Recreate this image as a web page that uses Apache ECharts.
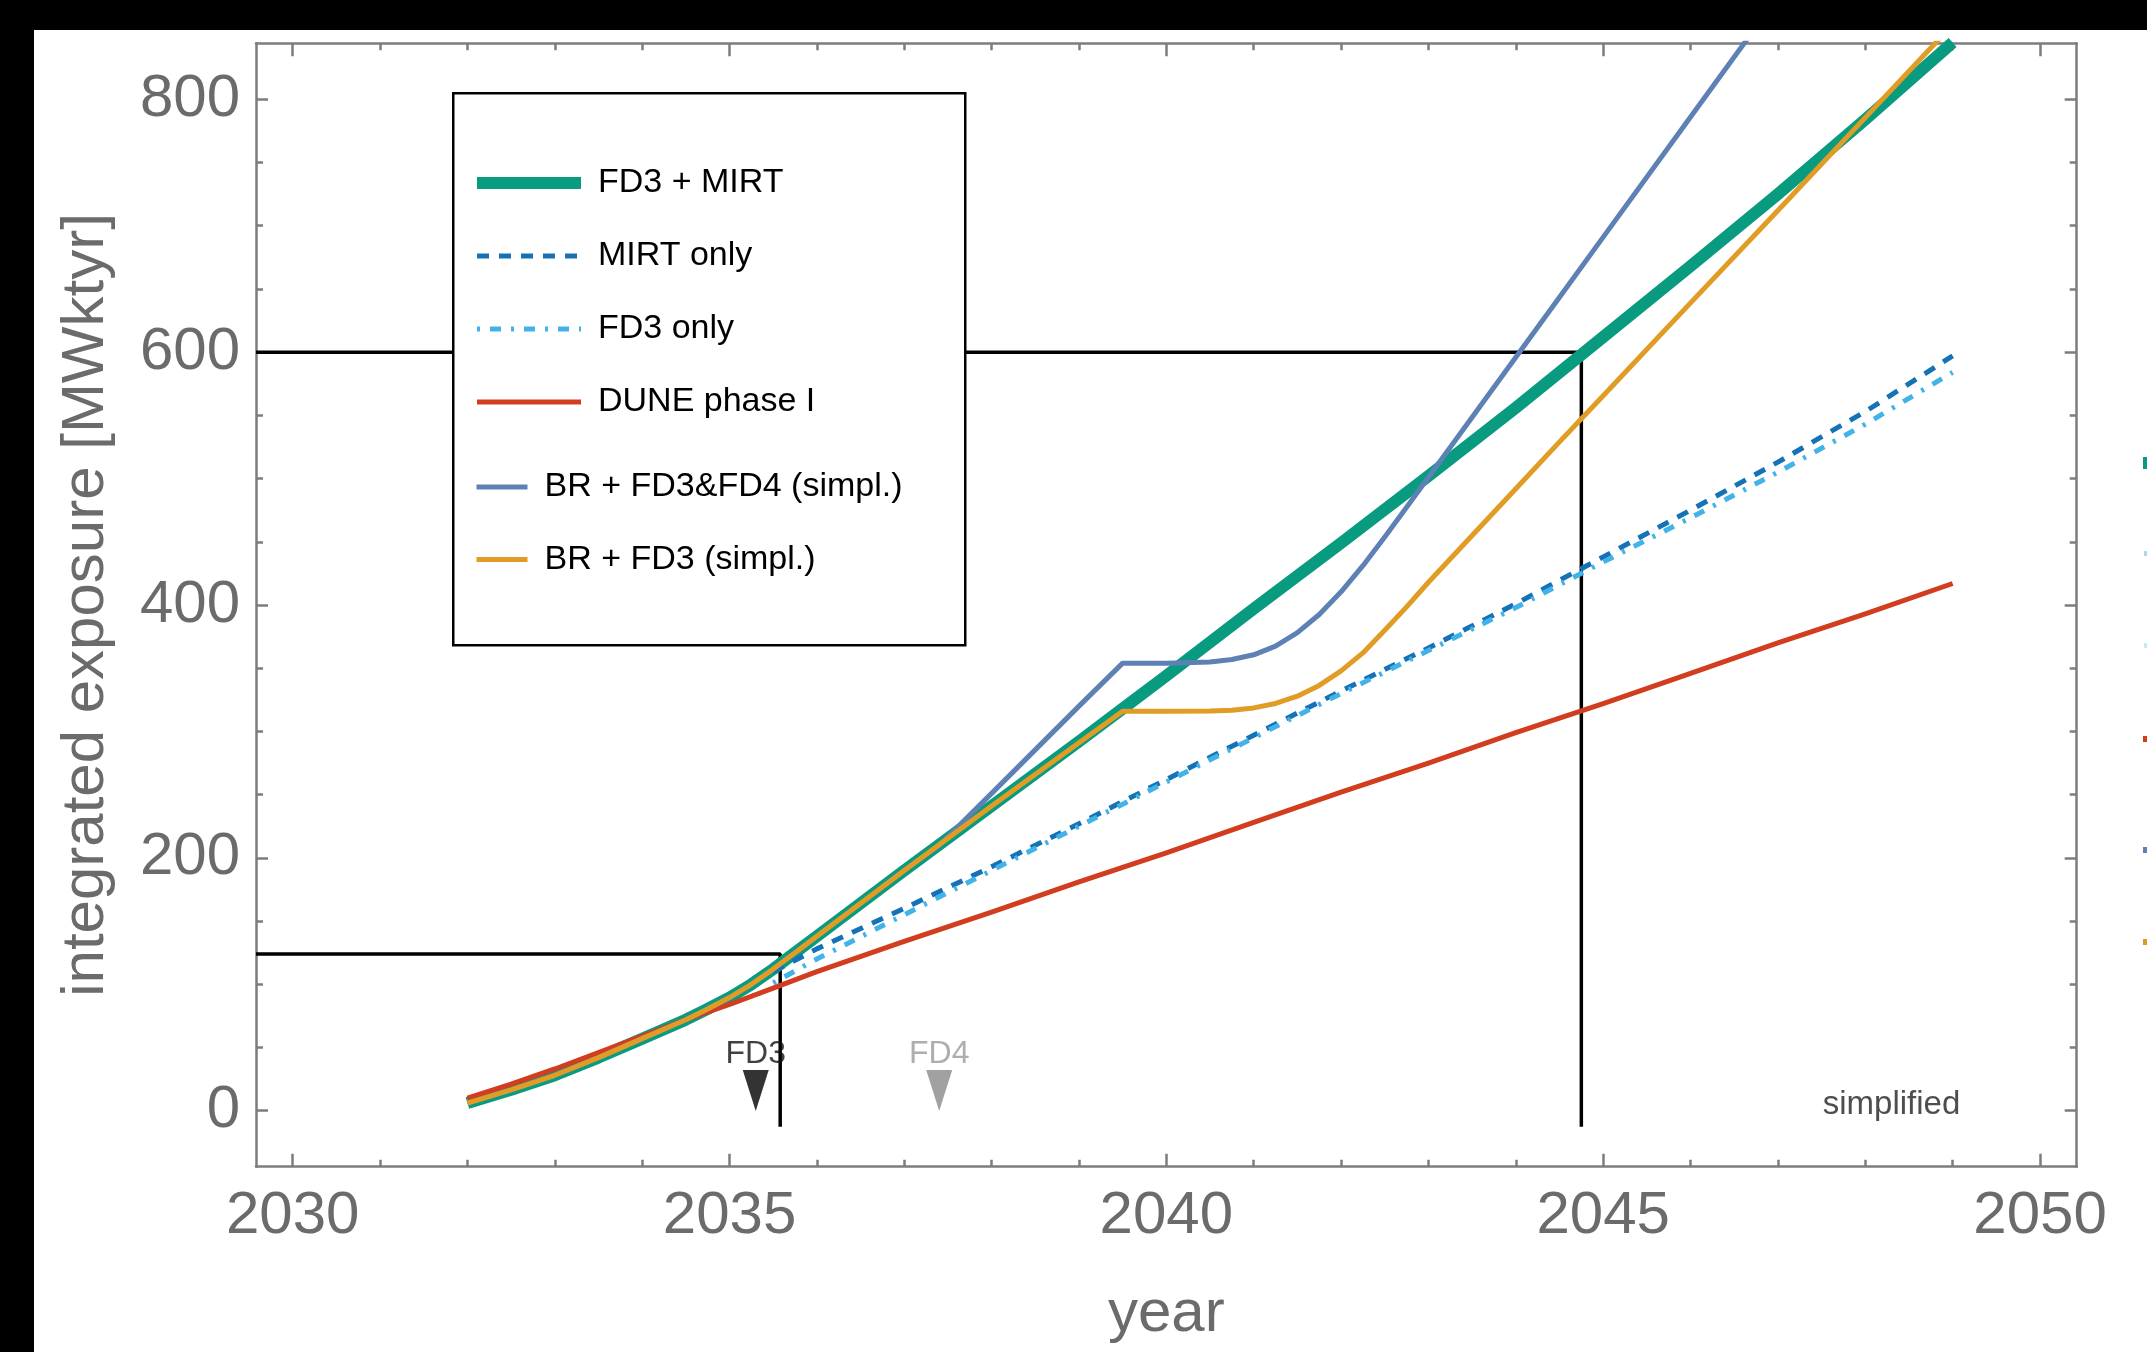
<!DOCTYPE html>
<html>
<head>
<meta charset="utf-8">
<script src="https://cdn.jsdelivr.net/npm/echarts@6/dist/echarts.min.js"></script>
<style>
html, body { margin: 0; padding: 0; background: #fff; }
#chart { width: 2147px; height: 1352px; }
</style>
</head>
<body>
<div id="chart"></div>
<script>
// ---- exposure curves: year -> integrated exposure [MW kt yr] ----
const fd3MirtYears = [2032, 2032.5, 2033, 2033.5, 2034, 2034.5, 2034.75, 2035, 2035.25, 2035.5, 2035.75, 2036, 2037, 2038, 2039, 2039.5, 2040, 2041, 2042, 2043, 2044, 2045, 2046, 2047, 2048, 2049];
const fd3MirtValues = [6, 16.5, 28, 42, 57, 72, 80.5, 89.5, 100, 112, 125, 138, 190, 241, 292, 318, 344, 397, 449, 502, 556, 612, 668, 725, 784, 845];

const mirtOnlyYears = [2035.5, 2036, 2037, 2038, 2039, 2040, 2041, 2042, 2043, 2044, 2045, 2046, 2047, 2048, 2049];
const mirtOnlyValues = [110, 128, 160, 193, 227, 262, 297, 332, 366, 401, 438, 475, 513, 553, 597];

const fd3OnlyYears = [2035.5, 2036, 2037, 2038, 2039, 2040, 2041, 2042, 2043, 2044, 2045, 2046, 2047, 2048, 2049];
const fd3OnlyValues = [101, 120, 155, 190, 225, 260, 295, 330, 364, 398, 434, 469, 505, 543, 584];

const phaseOneYears = [2032, 2032.5, 2033, 2033.5, 2034, 2034.5, 2035, 2035.5, 2036, 2037, 2038, 2039, 2040, 2041, 2042, 2043, 2044, 2045, 2046, 2047, 2048, 2049];
const phaseOneValues = [10, 21, 33, 46, 59, 72, 84, 97, 110, 134, 157, 181, 204, 228, 252, 275, 299, 322, 346, 370, 393, 417];

const brFd3Fd4Years = [2032, 2032.5, 2033, 2033.5, 2034, 2034.5, 2034.75, 2035, 2035.25, 2035.5, 2035.75, 2036, 2037, 2037.4, 2038, 2039, 2039.5, 2040, 2040.5, 2040.75, 2041, 2041.25, 2041.5, 2041.75, 2042, 2042.25, 2042.5, 2042.75, 2043, 2043.5, 2044, 2044.5, 2045, 2046, 2047, 2048, 2049];
const brFd3Fd4Values = [6, 16.5, 28, 42, 57, 72, 80.5, 89.5, 100, 112, 125, 138, 190, 210, 251, 320, 354, 354, 355, 356.9, 360.6, 367.5, 378.1, 392.5, 410.4, 431.1, 453.8, 477.3, 501, 548.5, 596, 643.5, 691, 786, 881, 976, 1071];

const brFd3Years = [2032, 2032.5, 2033, 2033.5, 2034, 2034.5, 2034.75, 2035, 2035.25, 2035.5, 2035.75, 2036, 2037, 2038, 2039, 2039.5, 2040, 2040.5, 2040.75, 2041, 2041.25, 2041.5, 2041.75, 2042, 2042.25, 2042.5, 2042.75, 2043, 2043.5, 2044, 2044.5, 2045, 2046, 2047, 2048, 2049];
const brFd3Values = [6, 16.5, 28, 42, 57, 72, 80.5, 89.5, 100, 112, 125, 138, 190, 241, 291, 316, 316, 316.2, 316.8, 318.6, 322.1, 327.9, 336.4, 347.9, 362.1, 380, 398.5, 418, 455, 492, 529, 565.5, 639, 712, 785.5, 859];

// ---- guide lines: exposure reached when FD3 arrives, and the 600 MW kt yr milestone ----
const fd3GuideYears = [2029.58, 2035.58, 2035.58];
const fd3GuideValues = [124, 124, -12.7];
const milestoneYears = [2029.58, 2044.75, 2044.75];
const milestoneValues = [600, 600, -12.7];

// ---- far-detector arrival markers ----
const detectorNames = ['FD3', 'FD4'];
const detectorYears = [2035.3, 2037.4];
const detectorMarkValue = 16;

// ---- axes ----
const yearRange = [2029.58, 2050.42];
const exposureRange = [-44.3, 844.3];
const yearLabels = [2030, 2035, 2040, 2045, 2050];
const yearMinorTicks = [2031, 2032, 2033, 2034, 2036, 2037, 2038, 2039, 2041, 2042, 2043, 2044, 2046, 2047, 2048, 2049];
const exposureLabels = [0, 200, 400, 600, 800];
const exposureMinorTicks = [50, 100, 150, 250, 300, 350, 450, 500, 550, 650, 700, 750];

const FONT = '"Liberation Sans", Arial, Helvetica, sans-serif';
const FRAME = '#7d7d7d';
const LABEL_GRAY = '#6b6b6b';

const zip = (xs, ys) => xs.map((x, i) => [x, ys[i]]);

function xAxisDef(position, ticks, len, withLine, withLabels) {
  return {
    type: 'value', position, min: yearRange[0], max: yearRange[1],
    axisLine: { show: withLine, onZero: false, lineStyle: { color: FRAME, width: 2.5 } },
    axisTick: { show: true, inside: true, length: len, customValues: ticks, lineStyle: { color: FRAME, width: 2.5 } },
    axisLabel: withLabels ? {
      show: true, customValues: ticks, margin: 20, fontSize: 60, color: LABEL_GRAY,
      fontFamily: FONT, formatter: v => String(v)
    } : { show: false },
    splitLine: { show: false },
    minorTick: { show: false }
  };
}
function yAxisDef(position, ticks, len, withLine, withLabels) {
  return {
    type: 'value', position, min: exposureRange[0], max: exposureRange[1],
    axisLine: { show: withLine, onZero: false, lineStyle: { color: FRAME, width: 2.5 } },
    axisTick: { show: true, inside: true, length: len, customValues: ticks, lineStyle: { color: FRAME, width: 2.5 } },
    axisLabel: withLabels ? {
      show: true, customValues: ticks, margin: 16, fontSize: 60, color: LABEL_GRAY,
      fontFamily: FONT, formatter: v => String(v)
    } : { show: false },
    splitLine: { show: false },
    minorTick: { show: false }
  };
}

const xAxes = [
  Object.assign(xAxisDef('bottom', yearLabels, 13, true, true), {
    name: 'year', nameLocation: 'middle', nameGap: 118,
    nameTextStyle: { fontSize: 60, color: LABEL_GRAY, fontFamily: FONT }
  }),
  xAxisDef('bottom', yearMinorTicks, 7, false, false),
  xAxisDef('top', yearLabels, 13, true, false),
  xAxisDef('top', yearMinorTicks, 7, false, false)
];
const yAxes = [
  Object.assign(yAxisDef('left', exposureLabels, 12, true, true), {
    name: 'integrated exposure [MWktyr]', nameLocation: 'middle', nameGap: 140,
    nameTextStyle: { fontSize: 60, color: LABEL_GRAY, fontFamily: FONT }
  }),
  yAxisDef('left', exposureMinorTicks, 7, false, false),
  yAxisDef('right', exposureLabels, 12, true, false),
  yAxisDef('right', exposureMinorTicks, 7, false, false)
];

function curve(name, xs, ys, color, width, dash, z) {
  return {
    name, type: 'line', data: zip(xs, ys), xAxisIndex: 0, yAxisIndex: 0,
    symbol: 'none', smooth: false, clip: true, z,
    lineStyle: { color, width, type: dash || 'solid', cap: 'butt', join: 'round' },
    itemStyle: { color },
    emphasis: { disabled: true }
  };
}
function guide(xs, ys) {
  return {
    type: 'line', data: zip(xs, ys), symbol: 'none', z: 1, silent: true,
    lineStyle: { color: '#000', width: 3.5 }, emphasis: { disabled: true }
  };
}

const C_TEAL = '#089B7F', C_DARKBLUE = '#1572B6', C_SKY = '#42B3E8',
      C_RED = '#D23D1F', C_SLATE = '#5E81B5', C_ORANGE = '#E09C24';

const series = [
  guide(fd3GuideYears, fd3GuideValues),
  guide(milestoneYears, milestoneValues),
  curve('FD3 + MIRT', fd3MirtYears, fd3MirtValues, C_TEAL, 12, null, 2),
  curve('MIRT only', mirtOnlyYears, mirtOnlyValues, C_DARKBLUE, 5, [12, 10], 3),
  curve('FD3 only', fd3OnlyYears, fd3OnlyValues, C_SKY, 5, [3, 10, 11, 10], 3),
  curve('DUNE phase I', phaseOneYears, phaseOneValues, C_RED, 5, null, 3),
  curve('BR + FD3&FD4 (simpl.)', brFd3Fd4Years, brFd3Fd4Values, C_SLATE, 5, null, 4),
  curve('BR + FD3 (simpl.)', brFd3Years, brFd3Values, C_ORANGE, 5, null, 4),
  {
    type: 'scatter', silent: true, z: 6,
    data: detectorYears.map((y, i) => ({
      value: [y, detectorMarkValue],
      itemStyle: { color: i === 0 ? '#000' : '#8a8a8a' },
      label: { formatter: detectorNames[i], color: i === 0 ? '#111' : '#9a9a9a' }
    })),
    symbol: 'triangle', symbolRotate: 180, symbolSize: [26, 41],
    label: { show: true, position: 'top', distance: 0, fontSize: 32, fontFamily: FONT }
  },
  {
    type: 'scatter', silent: true, z: 6, symbolSize: 0,
    data: [[2048.3, 4.5]],
    label: { show: true, position: 'inside', formatter: 'simplified', fontSize: 33, color: '#222', fontFamily: FONT }
  }
];

const legendText = { fontSize: 34, color: '#000', fontFamily: FONT, lineHeight: 40, padding: [0, 0, 0, 12] };
const legendCommon = {
  orient: 'vertical', padding: 0, itemHeight: 14, selectedMode: false,
  textStyle: legendText, z: 10,
  itemStyle: { opacity: 0 },
  lineStyle: { width: 'inherit', type: 'inherit', cap: 'butt' }
};

const chart = echarts.init(document.getElementById('chart'), null, { renderer: 'canvas' });
chart.setOption({
  animation: false,
  backgroundColor: '#fff',
  grid: { left: 256, right: 70.3, top: 43.3, bottom: 185.3, containLabel: false, outerBoundsMode: 'none' },
  xAxis: xAxes,
  yAxis: yAxes,
  legend: [
    Object.assign({}, legendCommon, {
      data: ['FD3 + MIRT', 'MIRT only', 'FD3 only', 'DUNE phase I'],
      left: 471, top: 163, itemWidth: 104, itemGap: 33
    }),
    Object.assign({}, legendCommon, {
      data: ['BR + FD3&FD4 (simpl.)', 'BR + FD3 (simpl.)'],
      left: 474, top: 467, itemWidth: 51, itemGap: 32.5
    })
  ],
  graphic: [
    // dark frame bands along the top and left edges of the figure
    { type: 'rect', left: 0, top: 0, shape: { width: 2147, height: 30 }, style: { fill: '#000' }, z: 0 },
    { type: 'rect', left: 0, top: 0, shape: { width: 34, height: 1352 }, style: { fill: '#000' }, z: 0 },
    // legend panel
    { type: 'rect', left: 452, top: 92, shape: { width: 512, height: 552 },
      style: { fill: '#fff', stroke: '#000', lineWidth: 2.5 }, z: 8 },
    // edge of a second legend panel running off the right side
    { type: 'rect', left: 2143, top: 457, shape: { width: 4, height: 12 }, style: { fill: C_TEAL }, z: 8 },
    { type: 'rect', left: 2144, top: 551, shape: { width: 3, height: 5 }, style: { fill: C_DARKBLUE, opacity: 0.3 }, z: 8 },
    { type: 'rect', left: 2144, top: 643, shape: { width: 3, height: 5 }, style: { fill: C_SKY, opacity: 0.3 }, z: 8 },
    { type: 'rect', left: 2143, top: 736, shape: { width: 4, height: 6 }, style: { fill: C_RED }, z: 8 },
    { type: 'rect', left: 2143, top: 847, shape: { width: 4, height: 6 }, style: { fill: C_SLATE }, z: 8 },
    { type: 'rect', left: 2143, top: 939, shape: { width: 4, height: 6 }, style: { fill: C_ORANGE }, z: 8 }
  ],
  series
});
</script>
</body>
</html>
